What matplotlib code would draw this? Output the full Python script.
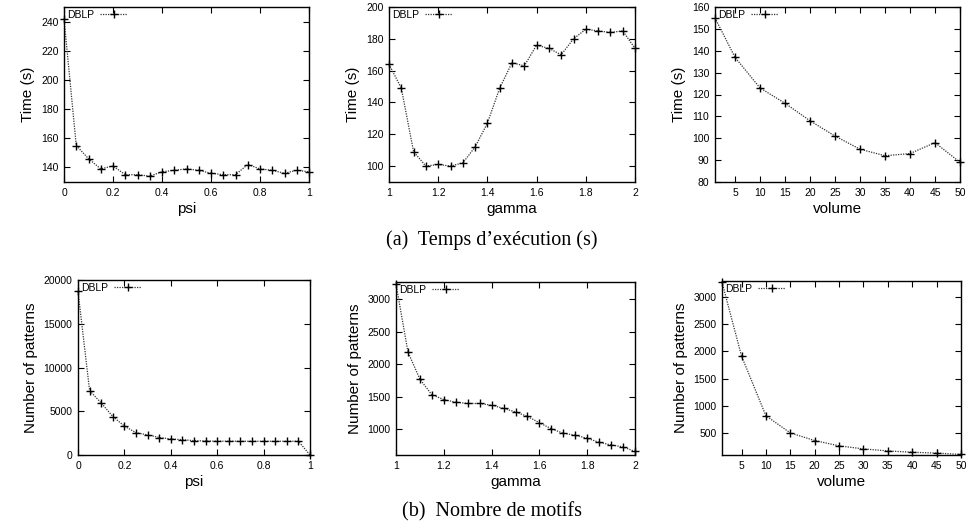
import numpy as np
import matplotlib
matplotlib.use("Agg")
import matplotlib.pyplot as plt

plt.rcParams['font.family'] = ['Liberation Sans', 'DejaVu Sans']

psi = [0, 0.05, 0.1, 0.15, 0.2, 0.25, 0.3, 0.35, 0.4, 0.45, 0.5,
       0.55, 0.6, 0.65, 0.7, 0.75, 0.8, 0.85, 0.9, 0.95, 1.0]
gamma = [1.0, 1.05, 1.1, 1.15, 1.2, 1.25, 1.3, 1.35, 1.4, 1.45, 1.5,
         1.55, 1.6, 1.65, 1.7, 1.75, 1.8, 1.85, 1.9, 1.95, 2.0]
volume = [1, 5, 10, 15, 20, 25, 30, 35, 40, 45, 50]

time_psi = [242, 155, 146, 139, 141, 135, 135, 134, 137, 138, 139,
            138, 136, 135, 135, 142, 139, 138, 136, 138, 137]
time_gamma = [164, 149, 109, 100, 101, 100, 102, 112, 127, 149, 165,
              163, 176, 174, 170, 180, 186, 185, 184, 185, 174]
time_volume = [155, 137, 123, 116, 108, 101, 95, 92, 93, 98, 89]

pat_psi = [18700, 7350, 5950, 4400, 3300, 2550, 2300, 2000, 1830, 1750, 1640,
           1600, 1580, 1580, 1570, 1570, 1570, 1570, 1570, 1570, 0]
pat_gamma = [3240, 2190, 1770, 1530, 1455, 1415, 1395, 1395, 1368, 1320, 1263,
             1196, 1098, 1005, 935, 905, 858, 795, 755, 725, 655]
pat_volume = [3270, 1915, 820, 505, 365, 268, 212, 175, 150, 135, 110]

series_label = "DBLP"
caption_a = "(a)  Temps d\u2019ex\u00e9cution (s)"
caption_b = "(b)  Nombre de motifs"

W, H = 967, 529
fig = plt.figure(figsize=(W / 100, H / 100), dpi=100)


def add_ax(l, t, r, b):
    return fig.add_axes([l / W, 1 - b / H, (r - l) / W, (b - t) / H])


panels = [
    ((64, 7, 309, 182), psi, time_psi, "psi", "Time (s)", (0, 1), (130, 250),
     [0, 0.2, 0.4, 0.6, 0.8, 1], ["0", "0.2", "0.4", "0.6", "0.8", "1"],
     [140, 160, 180, 200, 220, 240]),
    ((389, 7, 635, 182), gamma, time_gamma, "gamma", "Time (s)", (1, 2), (90, 200),
     [1, 1.2, 1.4, 1.6, 1.8, 2], ["1", "1.2", "1.4", "1.6", "1.8", "2"],
     [100, 120, 140, 160, 180, 200]),
    ((715, 7, 960, 182), volume, time_volume, "volume", "Time (s)", (1, 50), (80, 160),
     [5, 10, 15, 20, 25, 30, 35, 40, 45, 50],
     ["5", "10", "15", "20", "25", "30", "35", "40", "45", "50"],
     [80, 90, 100, 110, 120, 130, 140, 150, 160]),
    ((78, 280, 310, 455), psi, pat_psi, "psi", "Number of patterns", (0, 1), (0, 20000),
     [0, 0.2, 0.4, 0.6, 0.8, 1], ["0", "0.2", "0.4", "0.6", "0.8", "1"],
     [0, 5000, 10000, 15000, 20000]),
    ((396, 282, 635, 455), gamma, pat_gamma, "gamma", "Number of patterns", (1, 2), (600, 3270),
     [1, 1.2, 1.4, 1.6, 1.8, 2], ["1", "1.2", "1.4", "1.6", "1.8", "2"],
     [1000, 1500, 2000, 2500, 3000]),
    ((722, 281, 961, 455), volume, pat_volume, "volume", "Number of patterns", (1, 50), (100, 3290),
     [5, 10, 15, 20, 25, 30, 35, 40, 45, 50],
     ["5", "10", "15", "20", "25", "30", "35", "40", "45", "50"],
     [500, 1000, 1500, 2000, 2500, 3000]),
]

for box, x, y, xl, yl, xlim, ylim, xt, xtl, yt in panels:
    ax = add_ax(*box)
    ax.plot(x, y, linestyle=(0, (1, 1)), color='#333333', linewidth=0.9,
            marker='+', markersize=5.5, markeredgewidth=1.0, markeredgecolor='black',
            label=series_label, clip_on=False)
    ax.set_xlim(*xlim)
    ax.set_ylim(*ylim)
    ax.set_xticks(xt)
    ax.set_xticklabels(xtl)
    ax.set_yticks(yt)
    ax.tick_params(direction='in', length=4, width=0.8, top=True, right=True,
                   labelsize=7.5, pad=4)
    for s in ax.spines.values():
        s.set_linewidth(1.0)
    ax.set_xlabel(xl, fontsize=11, labelpad=3)
    ax.set_ylabel(yl, fontsize=11, labelpad=4)
    ax.legend(loc='upper left', frameon=False, markerfirst=False,
              fontsize=7.5, handlelength=2.6, handletextpad=0.6,
              borderaxespad=0.1, borderpad=0.2)

fig.text(492 / W, 1 - 240 / H, caption_a, ha='center', va='center',
         fontsize=14.5, family=['Liberation Serif', 'DejaVu Serif'])
fig.text(492 / W, 1 - 512 / H, caption_b, ha='center', va='center',
         fontsize=14.5, family=['Liberation Serif', 'DejaVu Serif'])

fig.savefig("out.png", dpi=100)
